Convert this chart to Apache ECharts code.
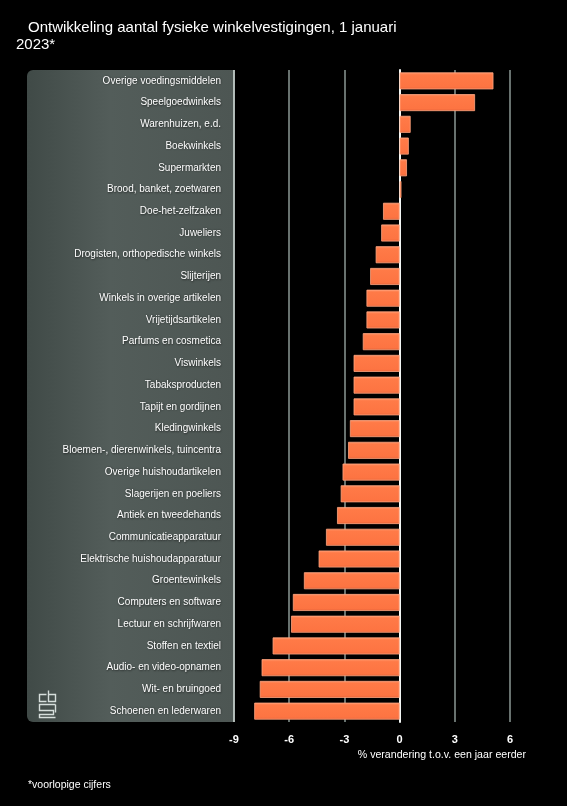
<!DOCTYPE html>
<html><head><meta charset="utf-8">
<script src="https://cdn.jsdelivr.net/npm/echarts@6/dist/echarts.min.js"></script>
<style>html,body{margin:0;padding:0;background:#000;}#c{width:567px;height:806px;}</style>
</head><body><div id="c"></div>
<script>
const categories = [
  'Overige voedingsmiddelen','Speelgoedwinkels','Warenhuizen, e.d.','Boekwinkels','Supermarkten',
  'Brood, banket, zoetwaren','Doe-het-zelfzaken','Juweliers','Drogisten, orthopedische winkels','Slijterijen',
  'Winkels in overige artikelen','Vrijetijdsartikelen','Parfums en cosmetica','Viswinkels','Tabaksproducten',
  'Tapijt en gordijnen','Kledingwinkels','Bloemen-, dierenwinkels, tuincentra','Overige huishoudartikelen','Slagerijen en poeliers',
  'Antiek en tweedehands','Communicatieapparatuur','Elektrische huishoudapparatuur','Groentewinkels','Computers en software',
  'Lectuur en schrijfwaren','Stoffen en textiel','Audio- en video-opnamen','Wit- en bruingoed','Schoenen en lederwaren'
];
const values = [
  5.1, 4.1, 0.6, 0.5, 0.4,
  0.1, -0.9, -1.0, -1.3, -1.6,
  -1.8, -1.8, -2.0, -2.5, -2.5,
  -2.5, -2.7, -2.8, -3.1, -3.2,
  -3.4, -4.0, -4.4, -5.2, -5.8,
  -5.9, -6.9, -7.5, -7.6, -7.9
];
const xTicks = [-9, -6, -3, 0, 3, 6];
const titleLine1 = 'Ontwikkeling aantal fysieke winkelvestigingen, 1 januari';
const titleLine2 = '2023*';
const axisTitle = '% verandering t.o.v. een jaar eerder';
const footnote = '*voorlopige cijfers';

const font = 'Liberation Sans, Arial, sans-serif';
const chart = echarts.init(document.getElementById('c'), null, {renderer: 'canvas'});
const logoColor = '#d6dedb';
chart.setOption({
  backgroundColor: '#000',
  animation: false,
  grid: {left: 234, right: 57, top: 70, bottom: 84, containLabel: false},
  xAxis: {
    type: 'value', min: xTicks[0], max: xTicks[xTicks.length - 1], interval: 3,
    axisLine: {show: false}, axisTick: {show: false},
    axisLabel: {color: '#fff', fontSize: 11, fontWeight: 'bold', fontFamily: font, margin: 12},
    splitLine: {show: true, lineStyle: {color: '#8b9894', width: 1.5}}
  },
  yAxis: {
    type: 'category', data: categories, inverse: true,
    axisLine: {show: true, onZero: true, lineStyle: {color: '#f2f6f4', width: 2}},
    axisTick: {show: false},
    axisLabel: {color: '#fff', fontSize: 10, fontFamily: font, margin: 13,
      textShadowColor: 'rgba(0,0,0,0.6)', textShadowBlur: 2, textShadowOffsetX: 0.5, textShadowOffsetY: 0.5}
  },
  graphic: [
    {type: 'rect', z: -10, zlevel: 0, shape: {x: 27, y: 70, width: 207, height: 652, r: [6, 0, 0, 6]},
      style: {fill: new echarts.graphic.LinearGradient(0, 0, 1, 0, [
        {offset: 0, color: '#404a47'}, {offset: 0.4, color: '#535d5a'}, {offset: 1, color: '#4d5653'}])}},
    {type: 'line', z: 5, shape: {x1: 234, y1: 70, x2: 234, y2: 722}, style: {stroke: '#c9d2ce', lineWidth: 1.5}},
    {type: 'text', left: 28, top: 20, style: {text: titleLine1, fill: '#fff', font: '15px ' + font}},
    {type: 'text', left: 16, top: 37, style: {text: titleLine2, fill: '#fff', font: '15px ' + font}},
    {type: 'text', right: 41, top: 750, style: {text: axisTitle, fill: '#fff', font: '10.6px ' + font, textAlign: 'right'}},
    {type: 'text', left: 28, top: 780, style: {text: footnote, fill: '#fff', font: '10.5px ' + font}},
    {type: 'group', left: 37, top: 688, children: [
      {type: 'polyline', shape: {points: [[7,4],[0,4],[0,11],[7,11]]}, style: {stroke: logoColor, fill: null, lineWidth: 1.4}},
      {type: 'polyline', shape: {points: [[9,0],[9,11],[16,11],[16,4],[9,4]]}, style: {stroke: logoColor, fill: null, lineWidth: 1.4}},
      {type: 'polyline', shape: {points: [[16,14],[0,14],[0,20],[14,20],[14,24],[0,24],[0,27],[16,27]]}, style: {stroke: logoColor, fill: null, lineWidth: 1.4}},
      {type: 'polyline', shape: {points: [[16,14],[16,22]]}, style: {stroke: logoColor, fill: null, lineWidth: 1.4}}
    ]}
  ],
  series: [{
    type: 'bar', data: values, barWidth: 17,
    itemStyle: {
      color: new echarts.graphic.LinearGradient(0, 0, 0, 1, [
        {offset: 0, color: '#ff9468'}, {offset: 0.15, color: '#ff7a47'}, {offset: 0.85, color: '#fd7442'}, {offset: 1, color: '#e8653a'}]),
      borderColor: '#ffa47f', borderWidth: 0.8
    }
  }]
});
</script></body></html>
